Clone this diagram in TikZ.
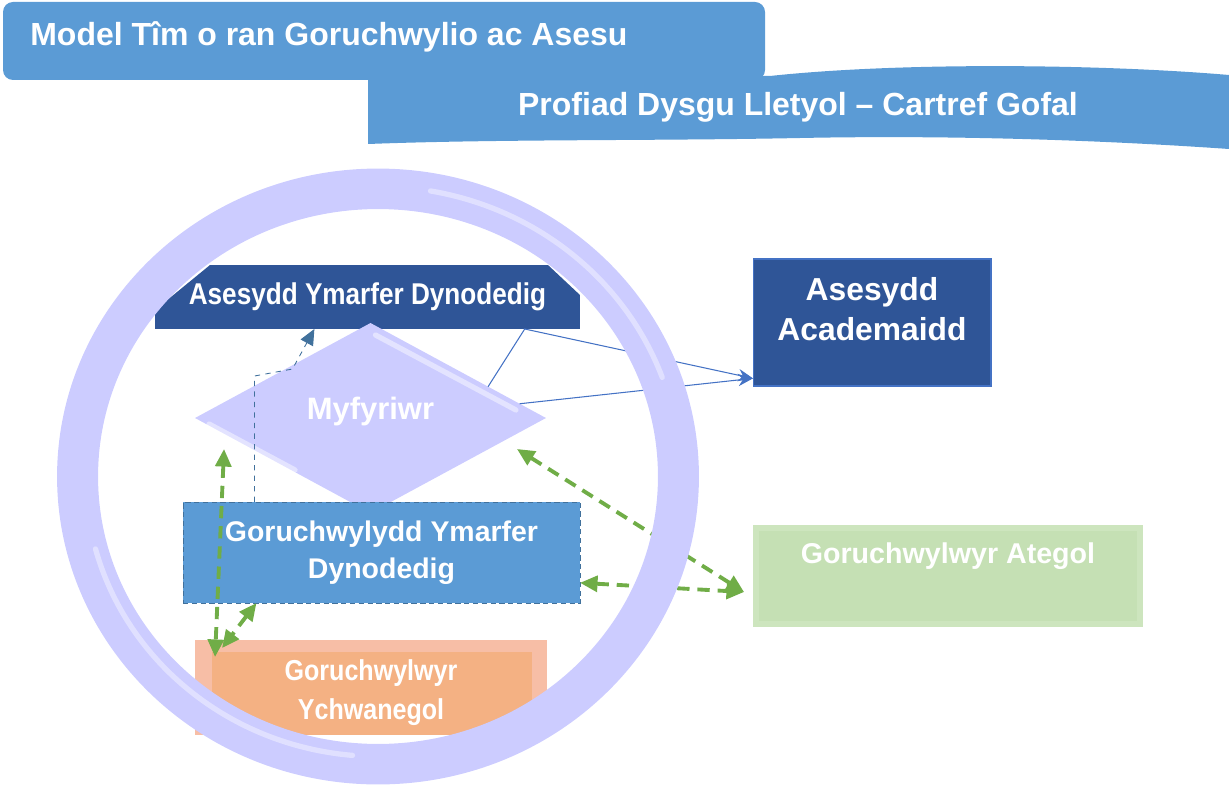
\documentclass[tikz,border=0pt]{standalone}
\usepackage{fontspec}
\setmainfont{Liberation Sans}
\newfontfamily\narrowsans[FakeStretch=0.87]{Liberation Sans}
\usepackage{tikz}
\usetikzlibrary{arrows.meta,shapes.geometric,positioning,calc}

\definecolor{bannerblue}{HTML}{5B9BD5}
\definecolor{deepblue}{HTML}{2F5597}
\definecolor{lilac}{HTML}{CCCCFF}
\definecolor{linkblue}{HTML}{4472C4}
\definecolor{steel}{HTML}{41719C}
\definecolor{leaf}{HTML}{70AD47}
\definecolor{peach}{HTML}{F4B183}
\definecolor{peachlight}{HTML}{F7BEA6}
\definecolor{sage}{HTML}{C5E0B4}
\definecolor{sagelight}{HTML}{CDE5BE}

\tikzset{
  boxtext/.style={text=white,align=center},
  plainbox/.style={inner sep=0,outer sep=0},
  greenlink/.style={leaf,line width=2.2pt,dash pattern=on 7pt off 4.5pt,<->,>={Triangle[length=10pt,width=9pt]}},
  bluelink/.style={linkblue,line width=0.6pt,-{Stealth[length=8.5pt,width=7pt]}},
  shine/.style={white,opacity=0.45,line width=3pt,line cap=round},
}

\begin{document}
\begin{tikzpicture}[x=0.02cm,y=-0.02cm] %pixel grid, y down
\useasboundingbox (0,0) rectangle (1229,787);

% banners
\fill[bannerblue] (368,76) -- (770,76) .. controls (900,62) and (1100,64) .. (1229,75)
   -- (1229,149) .. controls (1100,140) and (950,135) .. (800,138)
   .. controls (650,141) and (500,139) .. (368,144) -- cycle;
\fill[bannerblue,rounded corners=0.2cm] (3,2) rectangle (765,80);
\node[boxtext,inner sep=0,anchor=west,font=\fontsize{18.2}{22}\selectfont\bfseries] (title) at (30,37) {Model Tîm o ran Goruchwylio ac Asesu};
\node[boxtext,inner sep=0,font=\fontsize{18.2}{22}\selectfont\bfseries] (subtitle) at (798,107) {Profiad Dysgu Lletyol – Cartref Gofal};

% boxes
\node[plainbox,minimum width=8.5cm,minimum height=1.28cm,boxtext,font=\narrowsans\fontsize{17.1}{20}\selectfont\bfseries,
  path picture={\fill[deepblue] ([yshift=0.38cm]path picture bounding box.south west)
    -- ([xshift=1.1cm]path picture bounding box.north west)
    -- ([xshift=-0.64cm]path picture bounding box.north east)
    -- ([yshift=-0.6cm]path picture bounding box.north east)
    -- (path picture bounding box.south east) -- (path picture bounding box.south west) -- cycle;}]
  (aym) at (367.5,297) {Asesydd Ymarfer Dynodedig};
\node[plainbox,diamond,fill=lilac,minimum width=7.02cm,minimum height=3.8cm,
  label={[boxtext,yshift=0.13cm,font=\fontsize{17.6}{20}\selectfont\bfseries]center:Myfyriwr}] (myf) at (370.5,418) {};
\draw[shine] ($(myf.north)+(5,12)$) -- ($(myf.east)+(-30,-8)$);
\draw[shine] ($(myf.west)+(14,6)$) -- ($(myf.west)+(100,52)$);
\node[plainbox,fill=bannerblue,draw=steel,densely dashed,line width=0.5pt,minimum width=7.94cm,minimum height=2.02cm,
  boxtext,font=\fontsize{16.2}{20.8}\selectfont\bfseries] (gyd) at (381.5,552.5) {Goruchwylydd Ymarfer\\Dynodedig};
\node[plainbox,fill=peachlight,minimum width=7.04cm,minimum height=1.9cm,
  path picture={\fill[peach] ([xshift=0.34cm]path picture bounding box.south west) rectangle ([xshift=-0.3cm,yshift=-0.24cm]path picture bounding box.north east);},
  label={[boxtext,yshift=-0.1cm,font=\narrowsans\fontsize{16.4}{22.5}\selectfont\bfseries]center:Goruchwylwyr\\Ychwanegol}] (gyw) at (371,687.5) {};
\node[plainbox,fill=deepblue,draw=linkblue,line width=0.6pt,minimum width=4.76cm,minimum height=2.54cm,
  label={[boxtext,yshift=0.27cm,font=\fontsize{18.1}{22.8}\selectfont\bfseries]center:Asesydd\\Academaidd}] (aca) at (872,322.5) {};
\node[plainbox,fill=sage,minimum width=7.8cm,minimum height=2.04cm,
  path picture={\draw[sagelight,line width=0.22cm] (path picture bounding box.south west) rectangle (path picture bounding box.north east);},
  label={[boxtext,yshift=0.4cm,font=\fontsize{16.3}{20}\selectfont\bfseries]center:Goruchwylwyr Ategol}] (ate) at (948,576) {};

% connectors
\coordinate (acain) at ($(aca.south west)!0.06!(aca.north west)$);
\draw[bluelink] ($(myf.north)!0.67!(myf.east)$) -- ($(aym.south west)!0.87!(aym.south east)$) -- (acain);
\draw[bluelink] ($(myf.north)!0.85!(myf.east)$) -- (acain);
\draw[steel,line width=0.5pt,dashed,-{Triangle[length=9pt,width=8pt]}] ($(gyd.north west)!0.18!(gyd.north east)$)
  -- ++(0,-126) -- ++(38,-7) -- ($(aym.south west)!0.375!(aym.south east)$);

\coordinate (myfsw) at ($(myf.west)+(29,31)$);
\coordinate (myfse) at ($(myf.east)+(-29,31)$);
\coordinate (gywin) at ($(gyw.north west)+(20,17)$);
\coordinate (atein) at ($(ate.west)+(-9,16)$);
\draw[greenlink] (myfsw) -- (gywin);
\draw[greenlink] ($(gyd.south west)!0.185!(gyd.south east)$) -- ($(gyw.north west)+(27,8)$);
\draw[greenlink] (myfse) -- (atein);
\draw[greenlink] ($(gyd.south east)!0.2!(gyd.north east)$) -- (atein);

% ring on top
\coordinate (ringc) at (378,476.5);
\fill[lilac,even odd rule] (ringc) ellipse [x radius=6.42cm,y radius=6.16cm]
  (ringc) ellipse [x radius=5.6cm,y radius=5.35cm];
\draw[shine,opacity=0.4] ([shift={(195:5.85cm and 5.6cm)}]ringc) arc [start angle=195,end angle=265,x radius=5.85cm,y radius=5.6cm];
\draw[shine,opacity=0.4] ([shift={(20:6.05cm and 5.8cm)}]ringc) arc [start angle=20,end angle=80,x radius=6.05cm,y radius=5.8cm];
\end{tikzpicture}
\end{document}
